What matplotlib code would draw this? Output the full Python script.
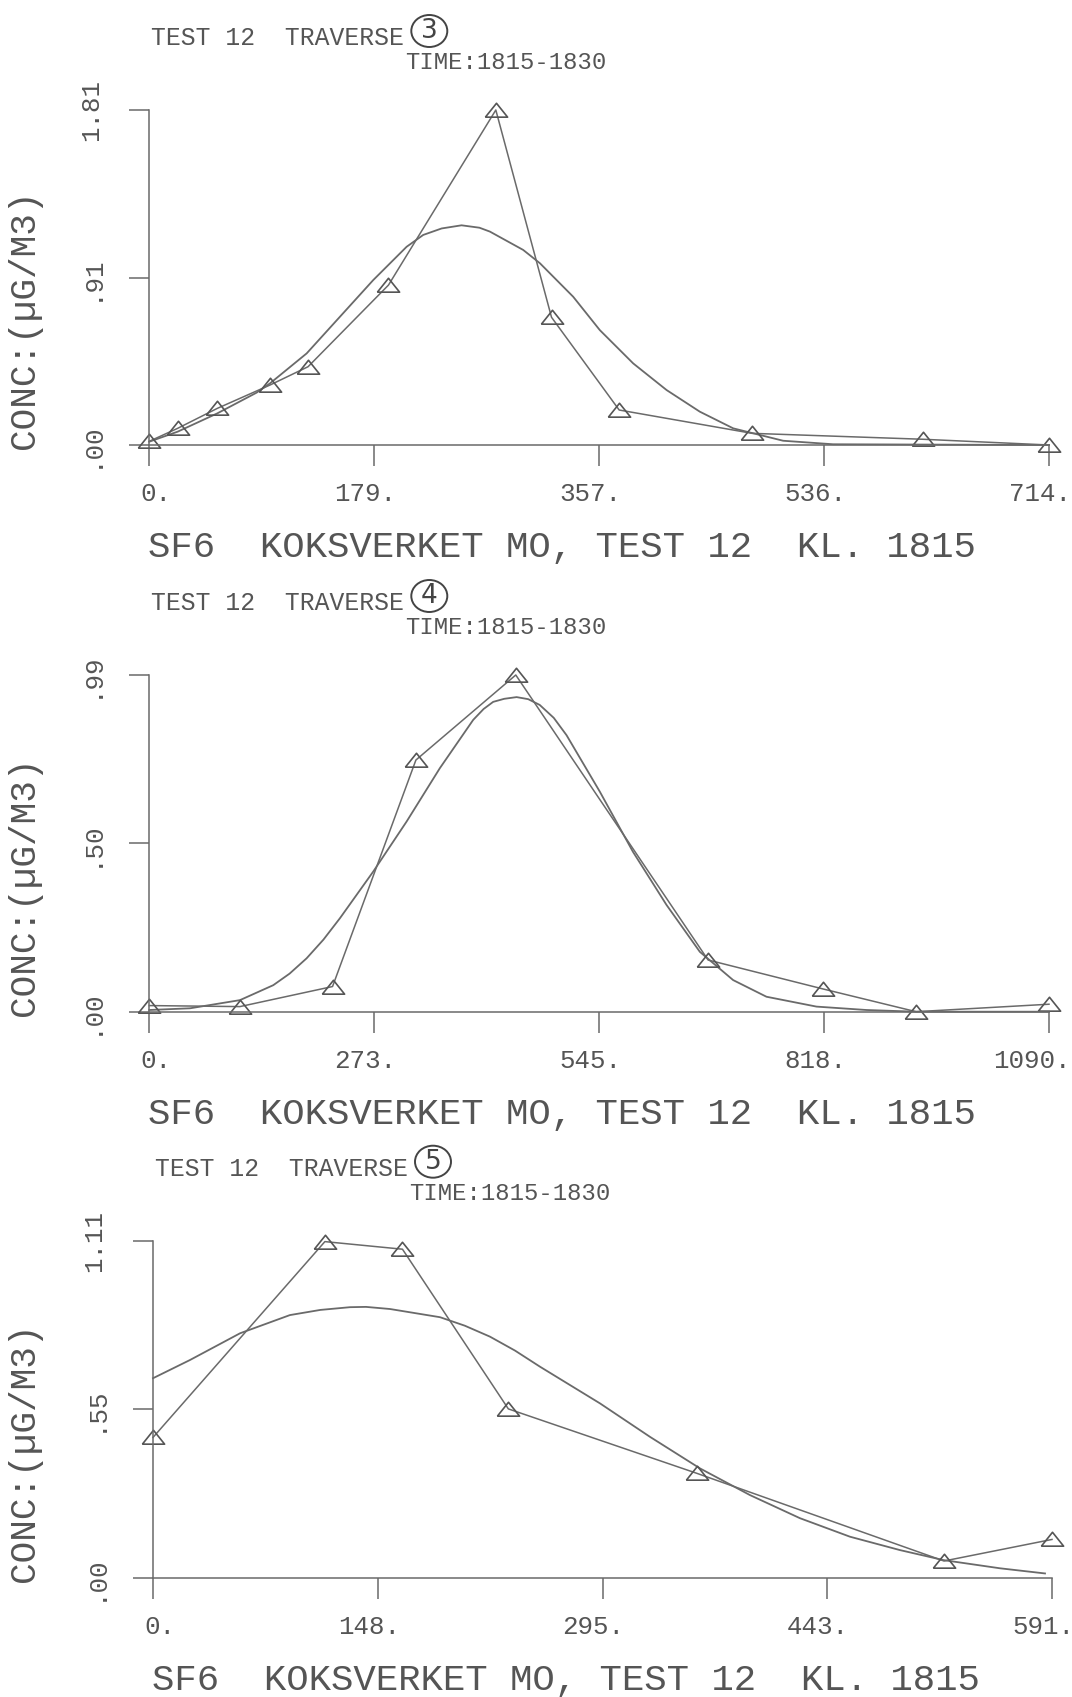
import matplotlib
matplotlib.use('Agg')
import matplotlib.pyplot as plt
from matplotlib.patches import Ellipse
from matplotlib.transforms import ScaledTranslation

plt.rcParams['font.family'] = ['Liberation Mono', 'DejaVu Sans']

# Traverse 3 : measured points and fitted curve
trav3_x = [0, 22.5, 54, 95.8, 126, 189.8, 275, 319.2, 372.9, 478.4, 614, 714]
trav3_y = [0.02, 0.09, 0.198, 0.324, 0.423, 0.864, 1.81, 0.69, 0.189, 0.063, 0.031, 0.0]
fit3_x = [0, 22.5, 54, 85.2, 95.8, 124.9, 151.3, 177.7, 204.2, 217.4, 232, 247.8,
          262, 270.3, 296.7, 310, 336.4, 357.5, 384, 410.5, 436.9, 463.4, 503, 542.6, 714]
fit3_y = [0.018, 0.072, 0.171, 0.283, 0.333, 0.495, 0.693, 0.891, 1.071, 1.135, 1.17, 1.187,
          1.174, 1.153, 1.054, 0.982, 0.801, 0.621, 0.441, 0.297, 0.180, 0.090, 0.023, 0.004, 0.0]

# Traverse 4
trav4_x = [0, 109.8, 222, 323, 444, 677, 816, 929, 1090]
trav4_y = [0.018, 0.015, 0.074, 0.74, 0.99, 0.152, 0.067, 0.0, 0.022]
fit4_x = [0, 49.3, 109.8, 150.2, 170, 190.6, 211, 231, 271.3, 311.7, 352, 392.4, 405, 416.6,
          430, 445, 459, 473, 490, 505.5, 545.8, 586, 626.6, 667, 707.3, 747.7, 808.3,
          868.8, 929, 1090]
fit4_y = [0.005, 0.010, 0.034, 0.078, 0.112, 0.157, 0.212, 0.275, 0.412, 0.559, 0.716, 0.858,
          0.89, 0.911, 0.920, 0.925, 0.919, 0.902, 0.864, 0.813, 0.647, 0.470, 0.314, 0.176,
          0.093, 0.044, 0.015, 0.005, 0.0, 0.0]

# Traverse 5
trav5_x = [0, 113, 164, 233.6, 357.4, 520, 591]
trav5_y = [0.462, 1.107, 1.082, 0.556, 0.344, 0.055, 0.126]
fit5_x = [0, 24.3, 57.2, 90, 110, 129.5, 140, 155.8, 188.7, 205, 221.5, 238, 254.4, 293.9,
          326.7, 359.6, 392.5, 425.3, 458.2, 491, 519.6, 556.8, 586.4]
fit5_y = [0.657, 0.717, 0.805, 0.865, 0.882, 0.891, 0.892, 0.885, 0.858, 0.83, 0.794, 0.748,
          0.695, 0.574, 0.464, 0.360, 0.272, 0.196, 0.135, 0.091, 0.058, 0.031, 0.014]

# axis ticks
xticks3 = [0, 178.5, 357, 535.5, 714]
xlabels3 = ['0.', '179.', '357.', '536.', '714.']
yticks3 = [0, 0.905, 1.81]
ylabels3 = ['.00', '.91', '1.81']

xticks4 = [0, 272.5, 545, 817.5, 1090]
xlabels4 = ['0.', '273.', '545.', '818.', '1090.']
yticks4 = [0, 0.495, 0.99]
ylabels4 = ['.00', '.50', '.99']

xticks5 = [0, 147.75, 295.5, 443.25, 591]
xlabels5 = ['0.', '148.', '295.', '443.', '591.']
yticks5 = [0, 0.555, 1.11]
ylabels5 = ['.00', '.55', '1.11']

traverse_no = ['3', '4', '5']

W, H = 1072, 1697
line_col = '#6a6a6a'
text_col = '#555555'

fig = plt.figure(figsize=(W / 100, H / 100), dpi=100)
fig.patch.set_facecolor('white')

# flat open triangle like the plotter symbol
tri = [(-1, -0.6), (1, -0.6), (0, 0.65), (-1, -0.6)]

# panel layout in pixels: left, right, top, zero line
layout = [
    (149.3, 1049, 110, 445),
    (149.3, 1049, 675, 1011.7),
    (153, 1052, 1240.7, 1577.7),
]

panels = [
    (trav3_x, trav3_y, fit3_x, fit3_y, xticks3, xlabels3, yticks3, ylabels3),
    (trav4_x, trav4_y, fit4_x, fit4_y, xticks4, xlabels4, yticks4, ylabels4),
    (trav5_x, trav5_y, fit5_x, fit5_y, xticks5, xlabels5, yticks5, ylabels5),
]

for i, (tx, ty, fx, fy, xt, xl, yt, yl) in enumerate(panels):
    left, right, top, zero = layout[i]
    ax = fig.add_axes([left / W, 1 - zero / H, (right - left) / W, (zero - top) / H])
    ax.set_xlim(xt[0], xt[-1])
    ax.set_ylim(yt[0], yt[-1])

    ax.plot(fx, fy, color=line_col, lw=1.3, clip_on=False, solid_joinstyle='round')
    ax.plot(tx, ty, color=line_col, lw=1.1, marker=tri, ms=16, mfc='none',
            mec='#555555', mew=1.2, clip_on=False)

    for s in ['top', 'right']:
        ax.spines[s].set_visible(False)
    for s in ['left', 'bottom']:
        ax.spines[s].set_color(line_col)
        ax.spines[s].set_linewidth(1.1)

    ax.set_xticks(xt, xl)
    ax.set_yticks(yt, yl)
    ax.tick_params(axis='x', direction='out', length=15, width=1.1, color=line_col,
                   pad=11.5, labelsize=18.6, labelcolor=text_col)
    ax.tick_params(axis='y', direction='out', length=14.4, width=1.1, color=line_col,
                   pad=19, labelsize=18.6, labelcolor=text_col, labelrotation=90)
    for lab in ax.get_xticklabels():
        lab.set_ha('right')
        lab.set_transform(lab.get_transform() + ScaledTranslation(0.22, 0, fig.dpi_scale_trans))
    for lab in ax.get_yticklabels():
        lab.set_va('center')

    # y label
    fig.text(25 / W, 1 - (zero + 4) / H, 'CONC:(µG/M3)', rotation=90,
             ha='center', va='bottom', fontsize=26, color=text_col)
    # bottom caption
    fig.text((left - 1) / W, 1 - (zero + 112) / H, 'SF6  KOKSVERKET MO, TEST 12  KL. 1815',
             ha='left', va='baseline', fontsize=26.9, color=text_col)
    # header lines
    fig.text((left + 2) / W, 1 - (top - 65) / H, 'TEST 12  TRAVERSE',
             ha='left', va='baseline', fontsize=17.8, color=text_col)
    fig.text((left + 256) / W, 1 - (top - 41) / H, 'TIME:1815-1830',
             ha='left', va='baseline', fontsize=17.2, color=text_col)
    # hand-circled traverse number
    cx, cy = (left + 280) / W, 1 - (top - 79) / H
    fig.add_artist(Ellipse((cx, cy), 36 / W, 32 / H, transform=fig.transFigure,
                           fill=False, ec='#444444', lw=1.4))
    fig.text(cx, cy, traverse_no[i], ha='center', va='center', fontsize=19,
             family='DejaVu Sans', color='#444444')

fig.savefig('out.png', dpi=100, facecolor='white')
